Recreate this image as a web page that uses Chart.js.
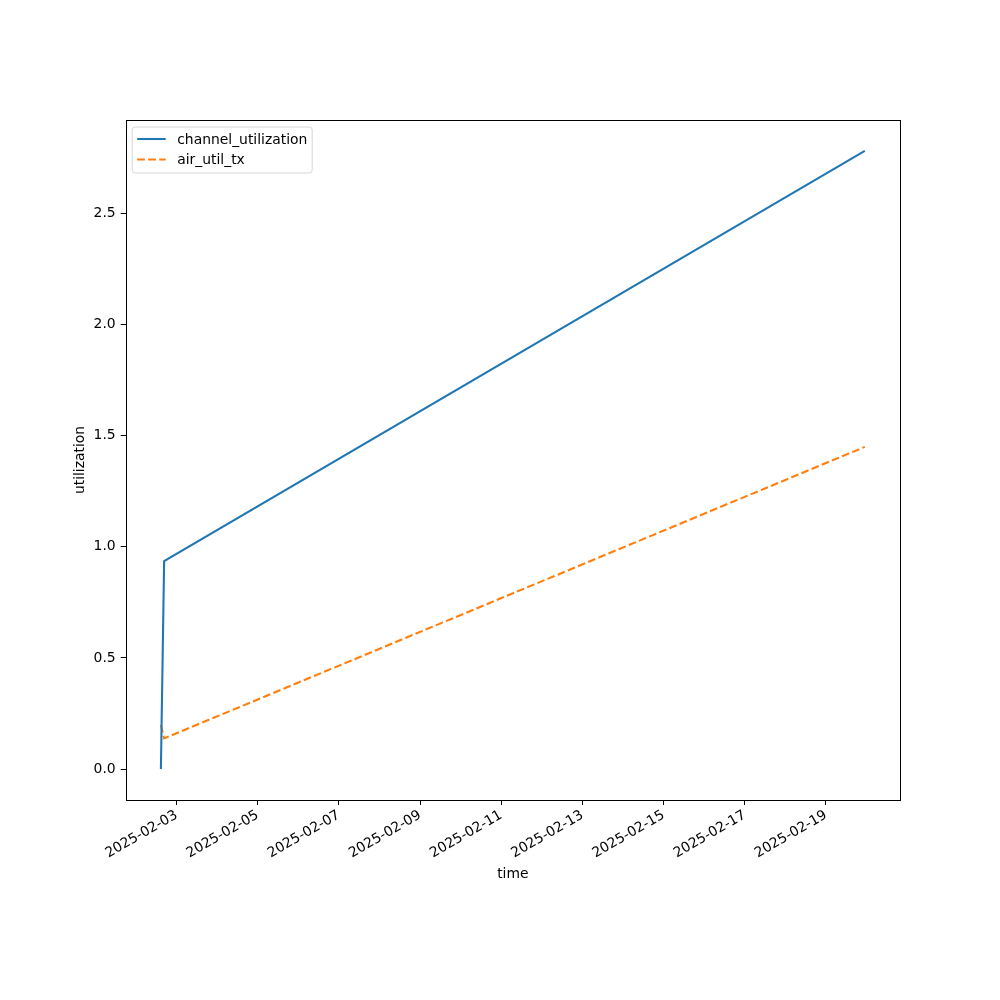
<!DOCTYPE html>
<html>
<head>
<meta charset="utf-8">
<script src="https://cdn.jsdelivr.net/npm/chart.js@4"></script>
<style>
  html, body { margin: 0; padding: 0; background: #fff; }
  #wrap { width: 1000px; height: 1000px; }
</style>
</head>
<body>
<div id="wrap"><canvas id="chart" width="1000" height="1000"></canvas></div>
<script>
// data (times in UTC)
const times = [
    Date.UTC(2025, 1, 2, 14, 45),
    Date.UTC(2025, 1, 2, 16, 40),
    Date.UTC(2025, 1, 19, 23, 0)
];
const channelUtilization = [0.0, 0.935, 2.78];
const airUtilTx = [0.198, 0.138, 1.449];
const seriesNames = ['channel_utilization', 'air_util_tx'];
const yTicks = [0.0, 0.5, 1.0, 1.5, 2.0, 2.5];
const xTickDays = ['2025-02-03', '2025-02-05', '2025-02-07', '2025-02-09', '2025-02-11',
    '2025-02-13', '2025-02-15', '2025-02-17', '2025-02-19'];

const FONT = 'DejaVu Sans';
const FS = 13.9;

// matplotlib style 5% margins
const tSpan = times[times.length - 1] - times[0];
const xMin = times[0] - tSpan * 0.05;
const xMax = times[times.length - 1] + tSpan * 0.05;
const allY = channelUtilization.concat(airUtilTx);
const yLo = Math.min(...allY), yHi = Math.max(...allY);
const yMin = yLo - (yHi - yLo) * 0.05;
const yMax = yHi + (yHi - yLo) * 0.05;

function toPoints(ys) {
    return ys.map((y, i) => ({ x: times[i], y: y }));
}

function fmtDate(ms) {
    const d = new Date(ms);
    const mm = String(d.getUTCMonth() + 1).padStart(2, '0');
    const dd = String(d.getUTCDate()).padStart(2, '0');
    return d.getUTCFullYear() + '-' + mm + '-' + dd;
}

// frame around the plot area + legend in the upper left
const framePlugin = {
    id: 'frame',
    afterDatasetsDraw(chart) {
        const { ctx, chartArea: a } = chart;
        ctx.save();
        ctx.strokeStyle = '#000';
        ctx.lineWidth = 1;
        ctx.strokeRect(Math.round(a.left) + 0.5, Math.round(a.top) + 0.5,
            Math.round(a.right - a.left), Math.round(a.bottom - a.top));

        // legend
        const x0 = a.left + 6.5, y0 = a.top + 7;
        const w = 180, h = 46;
        ctx.beginPath();
        ctx.roundRect(x0, y0, w, h, 3);
        ctx.fillStyle = 'rgba(255,255,255,0.8)';
        ctx.fill();
        ctx.strokeStyle = '#d6d6d6';
        ctx.stroke();
        ctx.font = FS + 'px "' + FONT + '"';
        ctx.textBaseline = 'middle';
        chart.data.datasets.forEach((ds, i) => {
            const yy = y0 + 12 + i * 20.5;
            ctx.beginPath();
            ctx.strokeStyle = ds.borderColor;
            ctx.lineWidth = ds.borderWidth;
            ctx.setLineDash(ds.borderDash || []);
            ctx.moveTo(x0 + 5, yy);
            ctx.lineTo(x0 + 33.5, yy);
            ctx.stroke();
            ctx.setLineDash([]);
            ctx.fillStyle = '#000';
            ctx.fillText(ds.label, x0 + 45, yy + 1);
        });
        ctx.restore();
    }
};

const ctx = document.getElementById('chart').getContext('2d');
new Chart(ctx, {
    type: 'line',
    data: {
        datasets: [{
            label: seriesNames[0],
            data: toPoints(channelUtilization),
            borderColor: '#1f77b4',
            borderWidth: 2.1,
            pointRadius: 0,
            fill: false,
            tension: 0
        }, {
            label: seriesNames[1],
            data: toPoints(airUtilTx),
            borderColor: '#ff7f0e',
            borderWidth: 2.1,
            borderDash: [7.7, 3.3],
            pointRadius: 0,
            fill: false,
            tension: 0
        }]
    },
    options: {
        responsive: false,
        animation: false,
        devicePixelRatio: 1,
        layout: { padding: { left: 65, top: 120, right: 100, bottom: 113 } },
        plugins: {
            legend: { display: false },
            tooltip: { enabled: false }
        },
        scales: {
            x: {
                type: 'linear',
                min: xMin,
                max: xMax,
                afterBuildTicks: (scale) => {
                    scale.ticks = xTickDays.map(s => ({ value: Date.parse(s + 'T00:00:00Z') }));
                },
                afterFit: (scale) => { scale.height = 87; },
                grid: {
                    drawOnChartArea: false,
                    drawTicks: true,
                    tickLength: 5,
                    tickColor: '#000',
                    tickWidth: 1
                },
                border: { display: false },
                ticks: {
                    color: '#000',
                    font: { family: FONT, size: FS },
                    maxRotation: 30,
                    minRotation: 30,
                    padding: 2,
                    autoSkip: false,
                    callback: (v) => fmtDate(v)
                },
                title: {
                    display: true,
                    text: 'time',
                    color: '#000',
                    font: { family: FONT, size: FS },
                    padding: { top: 0, bottom: 4 }
                }
            },
            y: {
                min: yMin,
                max: yMax,
                afterBuildTicks: (scale) => {
                    scale.ticks = yTicks.map(v => ({ value: v }));
                },
                afterFit: (scale) => { scale.width = 60.7; },
                grid: {
                    drawOnChartArea: false,
                    drawTicks: true,
                    tickLength: 5,
                    tickColor: '#000',
                    tickWidth: 1
                },
                border: { display: false },
                ticks: {
                    color: '#000',
                    font: { family: FONT, size: FS },
                    padding: 5,
                    callback: (v) => v.toFixed(1)
                },
                title: {
                    display: true,
                    text: 'utilization',
                    color: '#000',
                    font: { family: FONT, size: FS },
                    padding: { top: 7, bottom: 0 }
                }
            }
        }
    },
    plugins: [framePlugin]
});
</script>
</body>
</html>
